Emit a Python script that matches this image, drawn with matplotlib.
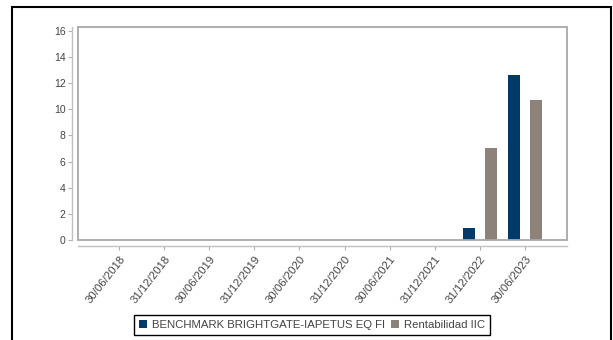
import numpy as np
import matplotlib
matplotlib.use("Agg")
import matplotlib.pyplot as plt
from matplotlib.patches import Rectangle

# Datos del gráfico
fechas = ["30/06/2018", "31/12/2018", "30/06/2019", "31/12/2019", "30/06/2020",
          "31/12/2020", "30/06/2021", "31/12/2021", "31/12/2022", "30/06/2023"]
benchmark = [np.nan, np.nan, np.nan, np.nan, np.nan, np.nan, np.nan, np.nan, 0.9, 12.6]
rentabilidad = [np.nan, np.nan, np.nan, np.nan, np.nan, np.nan, np.nan, np.nan, 7.05, 10.7]
y_ticks = [0, 2, 4, 6, 8, 10, 12, 14, 16]

plt.rcParams["font.family"] = ["Liberation Sans", "DejaVu Sans"]

azul = "#003a6b"
gris = "#8c8279"
gris_eje = "#a8a8a8"
texto = "#444444"

fig = plt.figure(figsize=(6.13, 3.40), dpi=100)
ax = fig.add_axes([0.1272, 0.2941, 0.7977, 0.6265])

x = np.arange(len(fechas))
ancho = 0.275
ax.bar(x - 0.244, benchmark, width=ancho, color=azul, label="BENCHMARK BRIGHTGATE-IAPETUS EQ FI")
ax.bar(x + 0.244, rentabilidad, width=ancho, color=gris, label="Rentabilidad IIC")

ax.set_xlim(-0.91, 9.93)
ax.set_ylim(0, 16.28)

# marco del área de dibujo
ax.add_patch(Rectangle((0, 0), 1, 1, transform=ax.transAxes, fill=False,
                       edgecolor=gris_eje, linewidth=1.3, clip_on=False, zorder=5))

# ejes separados del marco
for s in ["top", "right"]:
    ax.spines[s].set_visible(False)
for s in ["left", "bottom"]:
    ax.spines[s].set_position(("outward", 4))
    ax.spines[s].set_color("#c0c0c0")
    ax.spines[s].set_linewidth(1.0)

ax.set_yticks(y_ticks)
ax.set_xticks(x)
ax.set_xticklabels(fechas, rotation=52, ha="right", va="top", rotation_mode="anchor")
ax.tick_params(axis="both", colors="#b0b0b0", labelcolor=texto, length=3, width=0.8, pad=2)
ax.tick_params(axis="y", labelsize=7.5)
ax.tick_params(axis="x", labelsize=8.2, pad=3)

# borde exterior
fig.patches.append(Rectangle((11.5 / 613, -0.1), (611 - 11.5) / 613, 1.1 - 7 / 340,
                             transform=fig.transFigure, fill=False, edgecolor="black",
                             linewidth=1.5, zorder=0))

leg = fig.legend(loc="center", bbox_to_anchor=(0.509, 0.044), ncol=2, fontsize=8.2,
                 frameon=True, fancybox=False, edgecolor="black", framealpha=1,
                 handlelength=0.75, handleheight=0.75, handletextpad=0.4,
                 columnspacing=0.5, borderpad=0.4, borderaxespad=0)
leg.get_frame().set_linewidth(1.0)
for t in leg.get_texts():
    t.set_color(texto)

fig.savefig("out.png", dpi=100)
